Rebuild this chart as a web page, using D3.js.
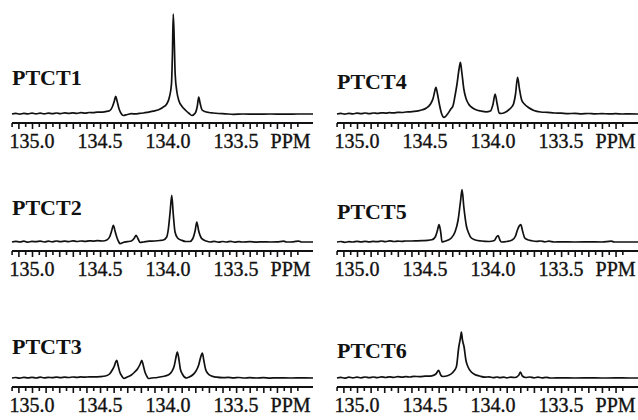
<!DOCTYPE html>
<html><head><meta charset="utf-8">
<script src="https://cdn.jsdelivr.net/npm/d3@7"></script>
<style>html,body{margin:0;padding:0;background:#fff;}svg{display:block;}</style>
</head><body>
<svg id="chart" width="638" height="420"></svg>
<script>
// ---------- DATA (ppm, relative intensity above baseline) ----------
const titles = ["PTCT1", "PTCT2", "PTCT3", "PTCT4", "PTCT5", "PTCT6"];
const tickLabelValues = [135.0, 134.5, 134.0, 133.5];
const tickLabels = ["135.0", "134.5", "134.0", "133.5"];
const unitLabel = "PPM";
const unitLabelValue = 133.1;

const spectrum1 = [
  [135.147,0],[135.12,0.6],[135.09,-0.2],[135.06,0.7],[135.03,0.1],[135.00,0.8],[134.97,0.2],[134.94,0.9],
  [134.91,0.1],[134.88,0.8],[134.85,0.3],[134.82,1.0],[134.79,0.4],[134.76,1.1],[134.73,0.6],[134.70,1.2],
  [134.67,0.7],[134.64,1.3],[134.61,0.9],[134.58,1.5],[134.55,1.3],[134.52,1.8],[134.49,1.8],[134.46,2.4],
  [134.43,3.2],[134.41,7],[134.395,13],[134.385,17.6],[134.375,13],[134.36,5],[134.345,0.5],[134.33,-1.5],
  [134.30,-0.5],[134.27,0.3],[134.24,0.1],[134.21,0.6],[134.18,1.0],[134.15,1.7],[134.11,2.8],[134.07,4.2],
  [134.04,6.5],[134.01,10],[133.99,17],[133.975,30],[133.968,60],[133.962,100],[133.955,75],[133.948,40],
  [133.935,22],[133.92,13],[133.90,8],[133.87,3.5],[133.845,0.5],[133.825,-1.5],[133.80,1],[133.785,8],
  [133.775,17],[133.765,11],[133.75,4],[133.73,2.5],[133.70,1.5],[133.67,1.0],[133.63,0.5],[133.58,0.2],
  [133.52,-0.3],[133.45,0],[133.35,-0.2],[133.25,0],[133.15,-0.1],[133.05,0],[132.935,0]
];
const spectrum2 = [
  [135.147,0],[135.12,0.7],[135.09,0],[135.06,0.8],[135.03,-0.2],[135.00,0.6],[134.97,0.3],[134.94,0.9],
  [134.91,0],[134.88,0.8],[134.85,0.2],[134.82,1.0],[134.79,0.3],[134.76,0.9],[134.73,0.4],[134.70,1.1],
  [134.67,0.5],[134.64,1.0],[134.61,0.6],[134.58,1.2],[134.55,0.9],[134.52,1.3],[134.48,1.0],[134.45,2],
  [134.43,5],[134.415,11],[134.402,16.7],[134.39,11],[134.375,4],[134.362,0],[134.353,-1.7],[134.33,-0.5],
  [134.30,0.3],[134.27,1],[134.25,3.5],[134.235,6.7],[134.22,3],[134.206,-0.5],[134.18,0],[134.14,0.8],
  [134.10,1.0],[134.06,1.5],[134.035,2],[134.01,5],[133.998,13],[133.985,30],[133.973,46.7],[133.962,28],
  [133.949,10],[133.93,4],[133.90,1.7],[133.87,0.5],[133.84,0.5],[133.82,3],[133.80,12],[133.789,20],
  [133.775,11],[133.752,3.3],[133.72,1],[133.69,0],[133.66,0.6],[133.63,-0.2],[133.60,0.5],[133.57,0],
  [133.54,0.6],[133.51,-0.1],[133.48,0.4],[133.45,0],[133.40,0.3],[133.35,-0.1],[133.30,0.2],[133.25,0],
  [133.20,0.1],[133.15,0.8],[133.13,0],[133.08,0.2],[133.04,0.9],[133.02,0],[132.935,0]
];
const spectrum3 = [
  [135.147,0],[135.12,0.5],[135.09,-0.2],[135.06,0.6],[135.03,0.1],[135.00,0.7],[134.97,0],[134.94,0.8],
  [134.91,0.2],[134.88,0.7],[134.85,0.3],[134.82,0.9],[134.79,0.4],[134.76,0.8],[134.73,0.5],[134.70,1.0],
  [134.67,0.6],[134.64,1.1],[134.61,0.8],[134.58,1.2],[134.54,1.2],[134.50,1.4],[134.46,2],[134.43,4],
  [134.41,8],[134.395,12],[134.385,16],[134.377,17.7],[134.368,13],[134.355,6],[134.34,2],[134.324,-0.5],
  [134.30,1],[134.27,3],[134.245,6],[134.225,9],[134.205,14],[134.193,17.7],[134.183,13],[134.17,6],
  [134.155,1.5],[134.145,-0.5],[134.12,0],[134.08,0.5],[134.04,1.5],[134.00,3],[133.975,6],[133.955,12],
  [133.943,20],[133.932,26],[133.922,20],[133.91,9],[133.895,4],[133.88,1],[133.863,0],[133.845,1],
  [133.82,3],[133.795,7],[133.775,13],[133.76,21],[133.748,25],[133.738,18],[133.725,9],[133.706,4.3],
  [133.68,2],[133.642,0.8],[133.60,0.3],[133.56,0.6],[133.52,0.1],[133.48,0.5],[133.44,0],[133.40,0.4],
  [133.35,0],[133.30,0.3],[133.25,-0.1],[133.20,0.2],[133.10,0],[133.00,0.1],[132.935,0]
];
const spectrum4 = [
  [135.147,0],[135.12,0.6],[135.09,-0.2],[135.06,0.7],[135.03,0.1],[135.00,0.8],[134.97,0.3],[134.94,1.0],
  [134.91,0.4],[134.88,1.0],[134.85,0.6],[134.82,1.2],[134.79,0.9],[134.76,1.3],[134.73,1.1],[134.70,1.6],
  [134.67,1.5],[134.64,2.0],[134.61,2.2],[134.58,2.6],[134.55,3.2],[134.52,4.2],[134.49,6],[134.46,10],
  [134.44,16],[134.43,22],[134.42,26.6],[134.41,21],[134.395,10],[134.38,1],[134.36,-3.4],[134.34,-1],
  [134.31,5],[134.295,8],[134.28,18],[134.265,30],[134.25,45],[134.24,51.6],[134.23,42],[134.215,25],
  [134.20,16],[134.18,10],[134.16,7],[134.13,4.5],[134.09,3],[134.05,2.2],[134.02,3],[134.00,10],
  [133.985,20],[133.97,10],[133.955,1],[133.94,0.5],[133.90,2.5],[133.87,6],[133.85,10],[133.835,20],
  [133.82,36.6],[133.805,24],[133.79,14],[133.77,10],[133.74,6.5],[133.70,3.5],[133.65,2],[133.60,1.6],
  [133.55,1],[133.50,0.8],[133.45,0.4],[133.40,0.6],[133.35,0.2],[133.30,0.5],[133.25,0.1],[133.20,0.4],
  [133.15,0.1],[133.10,0.3],[133.05,0],[133.00,0.2],[132.935,0]
];
const spectrum5 = [
  [135.147,0],[135.12,0.5],[135.09,-0.3],[135.06,0.4],[135.03,0],[135.00,0.6],[134.97,0.1],[134.94,0.7],
  [134.91,0.2],[134.88,0.6],[134.85,0.3],[134.82,1.0],[134.79,0.4],[134.76,1.1],[134.73,0.5],[134.70,0.9],
  [134.67,0.6],[134.64,1.0],[134.60,1.0],[134.56,1.2],[134.52,1.4],[134.48,1.6],[134.45,2.2],[134.425,5],
  [134.41,11],[134.397,17.3],[134.385,10],[134.375,0],[134.36,0.5],[134.33,2],[134.307,4],[134.28,10],
  [134.257,22],[134.24,40],[134.228,52.3],[134.215,35],[134.196,16],[134.18,9],[134.16,4],[134.13,2],
  [134.086,1],[134.03,0.5],[133.99,1.5],[133.975,5],[133.963,6.3],[133.95,2],[133.939,0],[133.90,0.5],
  [133.86,2],[133.835,6],[133.821,12],[133.808,16],[133.796,17.3],[133.785,12],[133.767,4],[133.74,2],
  [133.718,1.3],[133.68,0.6],[133.65,1.0],[133.62,0.2],[133.59,0.8],[133.55,0],[133.50,0.2],[133.40,0],
  [133.30,0.1],[133.20,0],[133.13,0.8],[133.11,0],[133.00,0],[132.935,0]
];
const spectrum6 = [
  [135.147,0],[135.12,0.7],[135.09,-0.2],[135.06,0.8],[135.03,0.1],[135.00,0.9],[134.97,0.2],[134.94,1.0],
  [134.91,0.3],[134.88,1.0],[134.85,0.3],[134.82,1.1],[134.79,0.5],[134.76,1.2],[134.73,0.6],[134.70,1.3],
  [134.67,0.8],[134.64,1.4],[134.61,1.0],[134.58,1.6],[134.54,1.4],[134.50,1.8],[134.45,2.2],[134.42,4],
  [134.40,7.7],[134.385,3],[134.37,1.5],[134.33,2.5],[134.30,5],[134.27,11],[134.252,31],[134.240,40],
  [134.233,46],[134.225,38],[134.213,31],[134.20,18],[134.184,11],[134.16,6],[134.135,3.5],[134.10,2],
  [134.061,0.8],[134.03,1.2],[134.00,0.3],[133.97,1.0],[133.95,0.3],[133.92,0.9],[133.90,0.2],[133.87,0.8],
  [133.84,0.5],[133.81,3],[133.799,6],[133.785,2],[133.76,0.5],[133.73,1],[133.70,0.2],[133.67,0.9],
  [133.64,0.2],[133.61,0.7],[133.58,0],[133.50,0.1],[133.40,0],[133.30,0.1],[133.20,0],[133.10,0.1],
  [133.00,0],[132.935,0]
];
const spectra = [spectrum1, spectrum2, spectrum3, spectrum4, spectrum5, spectrum6];

// ---------- LAYOUT ----------
const svg = d3.select("#chart");
const colX = [[12, 313], [337, 638]];
const rowAxisY = [123, 251, 387];
const baselineGap = 9;
const titleOffset = [38, 36, 33, 34, 32, 29];
const serif = "'Liberation Serif','Times New Roman',serif";
const minorTicks = d3.range(0, 43).map(i => +(135.15 - i * 0.05).toFixed(2));

spectra.forEach((data, i) => {
  const col = i < 3 ? 0 : 1;
  const row = i % 3;
  const axisY = rowAxisY[row];
  const x = d3.scaleLinear().domain([135.147, 132.935]).range(colX[col]);
  const y = d3.scaleLinear().domain([0, 100]).range([axisY - baselineGap, axisY - baselineGap - 100]);
  const g = svg.append("g");

  // axis with ticks
  const axis = d3.axisBottom(x).tickValues(minorTicks.filter(v => v >= 133.04)).tickSize(5).tickFormat("");
  const ag = g.append("g").attr("transform", `translate(0,${axisY})`).call(axis);
  ag.select(".domain").remove();
  ag.selectAll(".tick line").attr("stroke", "#111").attr("stroke-width", 1.6)
    .attr("y2", d => (Math.round(d * 100) % 10 === 0 ? 6 : 4));
  g.append("line").attr("x1", colX[col][0]).attr("x2", colX[col][1])
    .attr("y1", axisY).attr("y2", axisY).attr("stroke", "#111").attr("stroke-width", 2.2);

  // tick labels
  const labelStyle = sel => sel.attr("y", axisY + 25).attr("text-anchor", "middle")
      .attr("font-family", serif).attr("font-size", 20).attr("fill", "#111")
      .attr("stroke", "#111").attr("stroke-width", 0.35);
  tickLabelValues.forEach((v, k) => {
    g.append("text").attr("x", x(v)).call(labelStyle).text(tickLabels[k]);
  });
  g.append("text").attr("x", x(unitLabelValue)).call(labelStyle).text(unitLabel);

  // spectrum
  const line = d3.line().x(d => x(d[0])).y(d => y(d[1])).curve(d3.curveMonotoneX);
  const sorted = data.slice().sort((a, b) => b[0] - a[0]);
  g.append("path").datum(sorted).attr("d", line).attr("fill", "none")
    .attr("stroke", "#111").attr("stroke-width", 1.7).attr("stroke-linejoin", "round");

  // title
  g.append("text").attr("x", colX[col][0]).attr("y", axisY - titleOffset[i])
    .attr("font-family", serif).attr("font-weight", "bold").attr("font-size", 22)
    .attr("fill", "#111").text(titles[i]);
});
</script>
</body></html>
